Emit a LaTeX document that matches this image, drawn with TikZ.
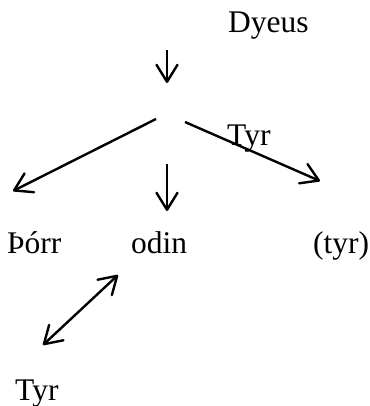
\documentclass[tikz,border=0pt]{standalone}
\usepackage{fontspec}
\setmainfont{Liberation Serif}
\usetikzlibrary{arrows.meta}
\begin{document}
\begin{tikzpicture}[x=1pt,y=-1pt,
  word/.style={inner sep=0pt,anchor=base west,font=\fontsize{31.5}{37}\selectfont},
  barb/.tip={Straight Barb[length=17pt,width=21pt,round]},
  link/.style={line width=2.4pt,-barb},
  twoway/.style={line width=2.4pt,barb-barb}]
\useasboundingbox (0,0) rectangle (369,406);
% names
\node[word] (dyeus) at (228,33) {Dyeus};
\node[word] (tyrmid) at (227,146) {Tyr};
\node[word] (thorr) at (7,253) {Þórr};
\node[word] (odin) at (131,253) {odin};
\node[word] (tyrp) at (313,253) {(tyr)};
\node[word] (tyrlow) at (15,400) {Tyr};
% arrow ends
\coordinate (d1) at (167,50);
\coordinate (d2) at (167,83);
\coordinate (l1) at (156,119);
\coordinate (l2) at (13,191);
\coordinate (r1) at (185,122);
\coordinate (r2) at (320,181);
\coordinate (m1) at (167,164);
\coordinate (m2) at (167,211);
\coordinate (b1) at (118,275);
\coordinate (b2) at (43,345);
% arrows
\draw[link] (d1) -- (d2);
\draw[link] (l1) -- (l2);
\draw[link] (r1) -- (r2);
\draw[link] (m1) -- (m2);
\draw[twoway] (b2) -- (b1);
\end{tikzpicture}
\end{document}
